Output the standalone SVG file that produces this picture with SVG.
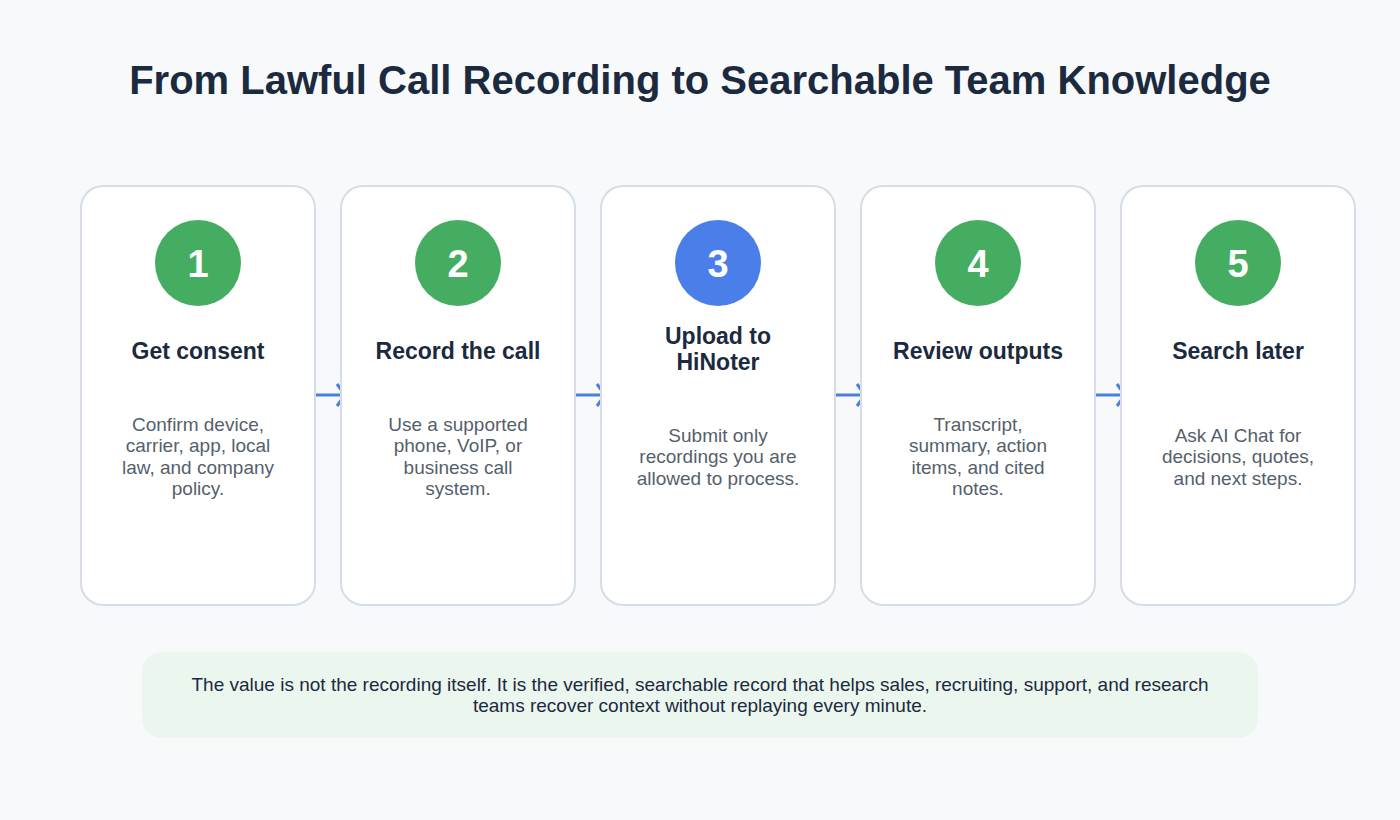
<svg xmlns="http://www.w3.org/2000/svg" width="1400" height="820" viewBox="0 0 1400 820">
<defs>
<style>
.bg{fill:#f7f9fb}
.card{fill:#ffffff;stroke:#d6dde6;stroke-width:2}
.g{fill:#45ad62}
.b{fill:#4a7fea}
.num{font-family:"Liberation Sans",Arial,sans-serif;font-weight:bold;font-size:38px;fill:#ffffff;text-anchor:middle}
.t{font-family:"Liberation Sans",Arial,sans-serif;font-weight:bold;font-size:23px;fill:#1b2a3e;text-anchor:middle}
.d{font-family:"Liberation Sans",Arial,sans-serif;font-size:19px;fill:#555f6c;text-anchor:middle}
.title{font-family:"Liberation Sans",Arial,sans-serif;font-weight:bold;font-size:40px;fill:#1b2a3e;text-anchor:middle}
.foot{font-family:"Liberation Sans",Arial,sans-serif;font-size:19px;fill:#1b2a3e;text-anchor:middle}
.conn{stroke:#4a7fe0;stroke-width:3;fill:none}
</style>
<marker id="ah" markerWidth="14" markerHeight="28" refX="10" refY="14" orient="auto" markerUnits="userSpaceOnUse">
<path d="M2,3 L10,14 L2,25" fill="none" stroke="#4a7fe0" stroke-width="3"/>
</marker>
</defs>
<rect class="bg" x="0" y="0" width="1400" height="820"/>
<text class="title" x="700" y="94">From Lawful Call Recording to Searchable Team Knowledge</text>
<g id="connectors">
<line class="conn" x1="316" y1="395" x2="345" y2="395" marker-end="url(#ah)"/>
<line class="conn" x1="576" y1="395" x2="605" y2="395" marker-end="url(#ah)"/>
<line class="conn" x1="836" y1="395" x2="865" y2="395" marker-end="url(#ah)"/>
<line class="conn" x1="1096" y1="395" x2="1125" y2="395" marker-end="url(#ah)"/>
</g>
<g id="step1">
<rect class="card" x="81" y="186" width="234" height="419" rx="22"/>
<circle class="g" cx="198" cy="263" r="43"/>
<text class="num" x="198" y="277">1</text>
<text class="t" x="198" y="359">Get consent</text>
<text class="d" x="198" y="431">Confirm device,</text>
<text class="d" x="198" y="452">carrier, app, local</text>
<text class="d" x="198" y="474">law, and company</text>
<text class="d" x="198" y="495">policy.</text>
</g>
<g id="step2">
<rect class="card" x="341" y="186" width="234" height="419" rx="22"/>
<circle class="g" cx="458" cy="263" r="43"/>
<text class="num" x="458" y="277">2</text>
<text class="t" x="458" y="359">Record the call</text>
<text class="d" x="458" y="431">Use a supported</text>
<text class="d" x="458" y="452">phone, VoIP, or</text>
<text class="d" x="458" y="474">business call</text>
<text class="d" x="458" y="495">system.</text>
</g>
<g id="step3">
<rect class="card" x="601" y="186" width="234" height="419" rx="22"/>
<circle class="b" cx="718" cy="263" r="43"/>
<text class="num" x="718" y="277">3</text>
<text class="t" x="718" y="344">Upload to</text>
<text class="t" x="718" y="370">HiNoter</text>
<text class="d" x="718" y="442">Submit only</text>
<text class="d" x="718" y="463">recordings you are</text>
<text class="d" x="718" y="485">allowed to process.</text>
</g>
<g id="step4">
<rect class="card" x="861" y="186" width="234" height="419" rx="22"/>
<circle class="g" cx="978" cy="263" r="43"/>
<text class="num" x="978" y="277">4</text>
<text class="t" x="978" y="359">Review outputs</text>
<text class="d" x="978" y="431">Transcript,</text>
<text class="d" x="978" y="452">summary, action</text>
<text class="d" x="978" y="474">items, and cited</text>
<text class="d" x="978" y="495">notes.</text>
</g>
<g id="step5">
<rect class="card" x="1121" y="186" width="234" height="419" rx="22"/>
<circle class="g" cx="1238" cy="263" r="43"/>
<text class="num" x="1238" y="277">5</text>
<text class="t" x="1238" y="359">Search later</text>
<text class="d" x="1238" y="442">Ask AI Chat for</text>
<text class="d" x="1238" y="463">decisions, quotes,</text>
<text class="d" x="1238" y="485">and next steps.</text>
</g>
<g id="footer">
<rect x="142" y="652" width="1116" height="86" rx="20" fill="#ebf6ee"/>
<text class="foot" x="700" y="691">The value is not the recording itself. It is the verified, searchable record that helps sales, recruiting, support, and research</text>
<text class="foot" x="700" y="712">teams recover context without replaying every minute.</text>
</g>
</svg>
